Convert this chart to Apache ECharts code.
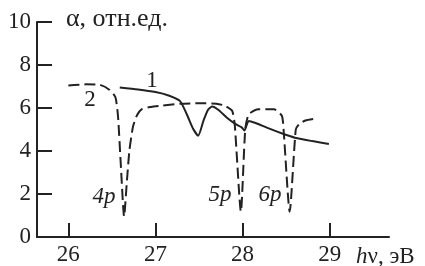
<!DOCTYPE html>
<html>
<head>
<meta charset="utf-8">
<script src="https://cdn.jsdelivr.net/npm/echarts@6/dist/echarts.min.js"></script>
<style>
  html, body { margin: 0; padding: 0; background: #fff; }
  #chart { width: 425px; height: 266px; }
</style>
</head>
<body>
<div id="chart"></div>
<script>
// photon energy ticks, eV
const xTicks = [26, 27, 28, 29];

// curve 1 (solid)
const curve1 = [
  [26.59, 6.95], [26.8, 6.86], [27.0, 6.74], [27.15, 6.58], [27.28, 6.33],
  [27.36, 5.7], [27.43, 5.05], [27.49, 4.71], [27.55, 5.4], [27.6, 5.9],
  [27.65, 6.07], [27.72, 5.92], [27.82, 5.55], [27.92, 5.25], [27.99, 5.1],
  [28.02, 4.95], [28.07, 5.4], [28.15, 5.3], [28.3, 5.05], [28.47, 4.79],
  [28.6, 4.62], [28.8, 4.46], [28.99, 4.33]
];

// curve 2 (dashed)
const curve2 = [
  [26.0, 7.05], [26.2, 7.1], [26.36, 7.08], [26.47, 6.85], [26.54, 6.5],
  [26.57, 5.6], [26.6, 3.5], [26.64, 0.95], [26.67, 2.5], [26.7, 4.0],
  [26.74, 5.1], [26.78, 5.6], [26.84, 5.94], [26.95, 6.05], [27.05, 6.1],
  [27.28, 6.2], [27.51, 6.22], [27.7, 6.2], [27.8, 6.1], [27.88, 5.87],
  [27.91, 5.2], [27.98, 1.18], [28.03, 5.0], [28.07, 5.7], [28.18, 5.94],
  [28.36, 5.94], [28.45, 5.64], [28.47, 5.0], [28.54, 1.18], [28.61, 5.0],
  [28.65, 5.25], [28.72, 5.42], [28.84, 5.51]
];

const ink = "#222";
const serif = "Liberation Serif";

const myChart = echarts.init(document.getElementById("chart"));

const txt = (text, x, y, extra) => ({
  type: "text",
  style: Object.assign({
    text: text, x: x, y: y,
    fontFamily: serif, fontSize: 23, fill: ink,
    align: "center", verticalAlign: "middle",
  }, extra || {}),
});

var option = {
  animation: false,
  grid: { left: 37, right: 36, top: 22, bottom: 27 },
  xAxis: {
    type: "value",
    min: 25.64,
    max: 29.68,
    axisLine: { show: true, lineStyle: { color: ink, width: 2 } },
    axisTick: {
      show: true, inside: true, length: 14, customValues: xTicks,
      lineStyle: { color: ink, width: 2 },
    },
    axisLabel: {
      customValues: xTicks, margin: 6,
      color: ink, fontFamily: serif, fontSize: 23,
    },
    splitLine: { show: false },
  },
  yAxis: {
    type: "value",
    min: 0,
    max: 10,
    interval: 2,
    axisLine: { show: true, lineStyle: { color: ink, width: 2 } },
    axisTick: {
      show: true, inside: true, length: 15,
      lineStyle: { color: ink, width: 2 },
    },
    axisLabel: {
      margin: 6,
      color: ink, fontFamily: serif, fontSize: 23,
    },
    splitLine: { show: false },
  },
  series: [
    {
      type: "line",
      data: curve1,
      showSymbol: false,
      smooth: 0.2,
      lineStyle: { color: ink, width: 2 },
    },
    {
      type: "line",
      data: curve2,
      showSymbol: false,
      smooth: 0.2,
      lineStyle: { color: ink, width: 2, type: [11, 5] },
    },
  ],
  graphic: [
    txt("α, отн.ед.", 66, 19, { align: "left", fontSize: 26 }),
    txt("{i|h}ν, эВ", 356, 257, {
      align: "left",
      rich: { i: { fontStyle: "italic", fontFamily: serif, fontSize: 23, fill: ink } },
    }),
    txt("1", 152, 81),
    txt("2", 90, 100),
    txt("4p", 104, 197, { fontStyle: "italic" }),
    txt("5p", 220, 195, { fontStyle: "italic" }),
    txt("6p", 270, 195, { fontStyle: "italic" }),
  ],
};

option && myChart.setOption(option);
</script>
</body>
</html>
